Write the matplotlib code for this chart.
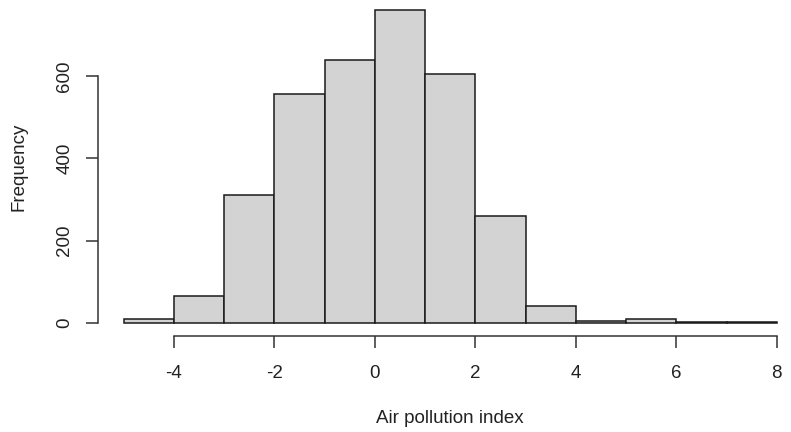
import numpy as np
import matplotlib.pyplot as plt

plt.rcParams['font.family'] = ['Liberation Sans', 'DejaVu Sans']

# histogram bins (Air pollution index) and counts
bin_edges = [-5, -4, -3, -2, -1, 0, 1, 2, 3, 4, 5, 6, 7, 8]
counts = [10, 66, 311, 556, 639, 760, 604, 259, 42, 6, 10, 3, 2]
x_ticks = [-4, -2, 0, 2, 4, 6, 8]
y_ticks = [0, 200, 400, 600]

W, H = 791, 432
fig = plt.figure(figsize=(W / 100, H / 100), dpi=100)
# axes box in pixels, mimicking R's 4% range extension
left, right, top, bottom = 97.6, 803.0, -2.4, 335.5
ax = fig.add_axes([left / W, 1 - bottom / H, (right - left) / W, (bottom - top) / H])

widths = np.diff(bin_edges)
ax.bar(bin_edges[:-1], counts, width=widths, align='edge',
       color='#d3d3d3', edgecolor='#1a1a1a', linewidth=1.1)

ax.set_xlim(-5.52, 8.52)
ax.set_ylim(-30.4, 790.4)

for s in ['top', 'right']:
    ax.spines[s].set_visible(False)
ax.spines['left'].set_bounds(0, 600)
ax.spines['bottom'].set_bounds(-4, 8)
for s in ['left', 'bottom']:
    ax.spines[s].set_color('#333333')
    ax.spines[s].set_linewidth(1.1)

fs = 13.5
ax.set_xticks(x_ticks)
ax.set_xticklabels([str(t) for t in x_ticks])
ax.set_yticks(y_ticks)
ax.set_yticklabels([str(t) for t in y_ticks], rotation=90, va='center')
ax.tick_params(length=8.5, width=1.1, color='#333333', labelsize=fs,
               labelcolor='#222222')
ax.tick_params(axis='x', pad=13)
ax.tick_params(axis='y', pad=9)

ax.set_xlabel('Air pollution index', fontsize=fs, color='#222222', labelpad=20)
ax.set_ylabel('Frequency', fontsize=fs, color='#222222', labelpad=21)

fig.savefig('out.png', dpi=100)
